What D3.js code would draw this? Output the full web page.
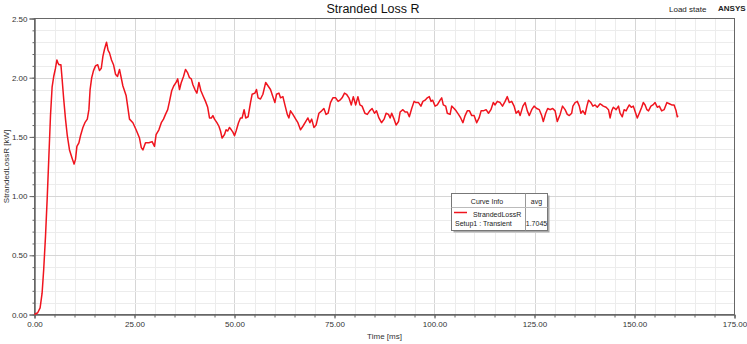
<!DOCTYPE html>
<html>
<head>
<meta charset="utf-8">
<script src="https://cdn.jsdelivr.net/npm/d3@7"></script>
<style>
  html, body { margin: 0; padding: 0; background: #fff; }
  svg { display: block; font-family: "Liberation Sans", Arial, sans-serif; }
</style>
</head>
<body>
<svg id="chart" width="747" height="344"></svg>
<script>
// ---- data ----
const title = "Stranded Loss R";
const xLabel = "Time [ms]";
const yLabel = "StrandedLossR [kW]";
const seriesName = "StrandedLossR";
const setupName = "Setup1 : Transient";
const avgValue = "1.7045";
const xTicks = [0, 25, 50, 75, 100, 125, 150, 175];
const yTicks = [0, 0.5, 1.0, 1.5, 2.0, 2.5];

const timeMs = [
  0, 0.8, 1.4, 1.9, 2.3, 2.75, 3.2, 3.6, 4.0, 4.4, 4.8, 5.25, 5.6, 5.8, 6.1, 6.6, 6.9, 7.3, 7.75, 8.2,
  8.75, 9.4, 9.9, 10.25, 10.6, 11.1, 11.5, 12.1, 12.6, 13.2, 13.6, 13.9, 14.3, 14.75, 15.25, 15.8, 16.25, 16.7, 17.1, 17.5,
  18.0, 18.4, 18.75, 19.25, 19.75, 20.25, 20.75, 21.25, 22.1, 22.9, 23.75, 24.6, 25.4, 26.25, 26.7, 27.1, 27.75, 28.6, 29.4, 30.0,
  30.4, 31.1, 31.7, 32.25, 32.75, 33.3, 33.75, 34.3, 34.8, 35.4, 35.8, 36.25, 36.7, 37.25, 37.75, 38.3, 38.75, 39.2, 39.6, 40.1,
  40.6, 41.1, 41.6, 42.1, 42.75, 43.3, 43.75, 44.2, 44.6, 45.0, 45.6, 46.1, 46.5, 46.9, 47.5, 47.9, 48.3, 48.75, 49.2, 49.6,
  50.0, 50.4, 51.0, 51.5, 51.9, 52.4, 52.8, 53.4, 54.0, 54.4, 55.1, 55.5, 55.9, 56.5, 57.1, 57.8, 58.4, 59.0, 59.6, 60.1,
  60.5, 61.1, 61.5, 62.1, 62.6, 63.2, 63.6, 64.0, 64.6, 65.3, 65.85, 66.5, 67.1, 67.8, 68.35, 68.85, 69.3, 69.85, 70.4, 71.1,
  71.8, 72.35, 72.9, 73.4, 74.0, 74.6, 75.3, 75.9, 76.35, 76.9, 77.5, 78.0, 78.6, 79.2, 79.7, 80.3, 80.85, 81.35, 81.9, 82.6,
  83.2, 83.8, 84.4, 85.0, 85.5, 86.1, 86.75, 87.4, 87.9, 88.5, 88.9, 89.3, 89.9, 90.4, 91.0, 91.4, 92.1, 92.65, 93.2, 93.7,
  94.3, 94.9, 95.4, 96.0, 96.6, 97.1, 97.65, 98.2, 98.7, 99.15, 99.55, 100.15, 100.7, 101.4, 101.8, 102.2, 102.8, 103.2, 103.9, 104.3,
  104.9, 105.4, 106.0, 106.55, 107.1, 107.65, 108.2, 108.75, 109.3, 109.9, 110.55, 111.15, 111.65, 112.2, 112.9, 113.5, 114.1, 114.7, 115.15, 115.7,
  116.4, 117.0, 117.65, 118.2, 118.7, 119.3, 119.9, 120.4, 121.0, 121.4, 122.1, 122.65, 123.2, 123.7, 124.3, 124.9, 125.55, 126.2, 126.8, 127.2,
  127.8, 128.3, 128.9, 129.55, 130.15, 130.7, 131.4, 132.0, 132.65, 133.2, 133.7, 134.3, 134.6, 135.15, 135.7, 136.2, 136.6, 137.1, 137.65, 138.1,
  138.5, 139.1, 139.6, 140.15, 140.7, 141.4, 141.8, 142.2, 142.9, 143.5, 143.9, 144.3, 144.7, 145.4, 146.0, 146.4, 146.95, 147.4, 147.9, 148.2,
  148.7, 149.2, 149.7, 150.3, 150.7, 151.2, 151.8, 152.2, 152.65, 153.1, 153.5, 154.1, 154.6, 155.15, 155.7, 156.2, 156.8, 157.4, 158.1, 158.7,
  159.3, 159.9, 160.4, 160.7, 160.9
];
const lossKW = [
  0.00, 0.015, 0.056, 0.18, 0.38, 0.66, 1.00, 1.34, 1.68, 1.92, 2.01, 2.08, 2.15, 2.13, 2.11, 2.11, 1.99, 1.82, 1.65, 1.51,
  1.39, 1.32, 1.27, 1.31, 1.42, 1.45, 1.51, 1.58, 1.62, 1.65, 1.73, 1.90, 2.00, 2.06, 2.10, 2.11, 2.06, 2.08, 2.18, 2.24,
  2.30, 2.23, 2.21, 2.15, 2.11, 2.03, 2.01, 2.07, 1.93, 1.85, 1.65, 1.62, 1.56, 1.49, 1.41, 1.39, 1.45, 1.45, 1.46, 1.42,
  1.52, 1.56, 1.62, 1.65, 1.69, 1.73, 1.80, 1.89, 1.93, 1.96, 1.99, 1.90, 1.96, 2.01, 2.07, 2.04, 2.00, 1.99, 1.94, 1.90,
  1.87, 1.96, 1.89, 1.85, 1.80, 1.75, 1.66, 1.66, 1.68, 1.65, 1.62, 1.59, 1.55, 1.49, 1.52, 1.56, 1.55, 1.58, 1.56, 1.54,
  1.51, 1.55, 1.62, 1.66, 1.66, 1.73, 1.66, 1.67, 1.79, 1.86, 1.87, 1.90, 1.83, 1.82, 1.86, 1.96, 1.93, 1.90, 1.84, 1.79,
  1.86, 1.87, 1.83, 1.84, 1.77, 1.69, 1.66, 1.72, 1.69, 1.65, 1.62, 1.56, 1.59, 1.63, 1.66, 1.62, 1.65, 1.58, 1.60, 1.70,
  1.72, 1.74, 1.69, 1.70, 1.79, 1.83, 1.83, 1.80, 1.81, 1.83, 1.87, 1.86, 1.83, 1.77, 1.84, 1.77, 1.84, 1.77, 1.76, 1.70,
  1.69, 1.72, 1.74, 1.70, 1.72, 1.66, 1.62, 1.65, 1.70, 1.69, 1.66, 1.70, 1.65, 1.60, 1.63, 1.71, 1.73, 1.71, 1.71, 1.67,
  1.74, 1.80, 1.79, 1.79, 1.76, 1.80, 1.81, 1.83, 1.84, 1.80, 1.81, 1.76, 1.77, 1.81, 1.83, 1.77, 1.76, 1.70, 1.69, 1.76,
  1.74, 1.72, 1.69, 1.66, 1.62, 1.68, 1.72, 1.72, 1.68, 1.68, 1.62, 1.66, 1.72, 1.72, 1.73, 1.70, 1.73, 1.79, 1.77, 1.80,
  1.79, 1.76, 1.80, 1.84, 1.79, 1.80, 1.76, 1.70, 1.72, 1.68, 1.76, 1.79, 1.72, 1.68, 1.73, 1.76, 1.74, 1.73, 1.68, 1.63,
  1.70, 1.74, 1.73, 1.74, 1.72, 1.63, 1.69, 1.76, 1.73, 1.69, 1.68, 1.70, 1.76, 1.79, 1.80, 1.76, 1.70, 1.72, 1.69, 1.76,
  1.81, 1.79, 1.76, 1.77, 1.75, 1.78, 1.77, 1.76, 1.75, 1.73, 1.66, 1.72, 1.75, 1.73, 1.76, 1.70, 1.67, 1.73, 1.72, 1.74,
  1.77, 1.75, 1.76, 1.70, 1.66, 1.70, 1.75, 1.79, 1.77, 1.73, 1.72, 1.76, 1.77, 1.79, 1.75, 1.76, 1.72, 1.73, 1.79, 1.78,
  1.77, 1.77, 1.72, 1.67, 1.68
];

// ---- layout ----
const svg = d3.select("#chart");
const L = 34.5, R = 734.5, T = 18.5, B = 314.5;
const x = d3.scaleLinear().domain([0, 175]).range([L, R]);
const y = d3.scaleLinear().domain([0, 2.5]).range([B, T]);

// grid
const xMinor = d3.range(5, 175, 5);
const yMinor = d3.range(1, 25).map(d => d / 10);
const g = svg.append("g");
g.selectAll("line.gx").data(xMinor).enter().append("line")
  .attr("x1", d => Math.round(x(d)) + 0.5).attr("x2", d => Math.round(x(d)) + 0.5)
  .attr("y1", T).attr("y2", B)
  .attr("stroke", d => d % 25 === 0 ? "#d6d6d6" : "#ececec").attr("stroke-width", 1);
g.selectAll("line.gy").data(yMinor).enter().append("line")
  .attr("y1", d => Math.round(y(d)) + 0.5).attr("y2", d => Math.round(y(d)) + 0.5)
  .attr("x1", L).attr("x2", R)
  .attr("stroke", d => Math.abs(d * 2 - Math.round(d * 2)) < 1e-6 ? "#d6d6d6" : "#ececec").attr("stroke-width", 1);

// frame
svg.append("rect").attr("x", L).attr("y", T).attr("width", R - L).attr("height", B - T)
  .attr("fill", "none").attr("stroke", "#666").attr("stroke-width", 1);

// axes
const fmt = d3.format(".2f");
const xAxis = svg.append("g").attr("transform", `translate(0,${B})`)
  .call(d3.axisBottom(x).tickValues(xTicks).tickFormat(fmt).tickSize(4).tickPadding(3));
const xAxisMinor = svg.append("g").attr("transform", `translate(0,${B})`)
  .call(d3.axisBottom(x).tickValues(xMinor).tickFormat("").tickSize(3));
const yAxis = svg.append("g").attr("transform", `translate(${L},0)`)
  .call(d3.axisLeft(y).tickValues(yTicks).tickFormat(fmt).tickSize(5).tickPadding(2));
const yAxisMinor = svg.append("g").attr("transform", `translate(${L},0)`)
  .call(d3.axisLeft(y).tickValues(yMinor).tickFormat("").tickSize(2));
[xAxis, xAxisMinor, yAxis, yAxisMinor].forEach(a => {
  a.select(".domain").attr("stroke", "#666");
  a.selectAll(".tick line").attr("stroke", "#666");
  a.selectAll(".tick text").attr("fill", "#333").attr("font-size", 8)
    .attr("font-family", "'Liberation Sans', Arial, sans-serif");
});

// line
const pts = timeMs.map((t, i) => [t, lossKW[i]]);
svg.append("path").datum(pts)
  .attr("fill", "none").attr("stroke", "#f0141e").attr("stroke-width", 1.5)
  .attr("stroke-linejoin", "round")
  .attr("d", d3.line().x(d => x(d[0])).y(d => y(d[1])));

// titles
svg.append("text").attr("x", 373).attr("y", 13).attr("text-anchor", "middle")
  .attr("font-size", 12.5).attr("fill", "#111").text(title);
svg.append("text").attr("x", 669).attr("y", 12).attr("font-size", 8).attr("fill", "#222").text("Load state");
svg.append("text").attr("x", 718).attr("y", 11).attr("font-size", 8).attr("font-weight", "bold").attr("fill", "#222").text("ANSYS");
svg.append("text").attr("x", (L + R) / 2).attr("y", 339).attr("text-anchor", "middle")
  .attr("font-size", 8).attr("fill", "#333").text(xLabel);
svg.append("text").attr("transform", `translate(9,${(T + B) / 2}) rotate(-90)`).attr("text-anchor", "middle")
  .attr("font-size", 8).attr("fill", "#333").text(yLabel);

// legend
const lg = svg.append("g");
lg.append("rect").attr("x", 453.5).attr("y", 195.5).attr("width", 96).attr("height", 37).attr("fill", "#aaa");
lg.append("rect").attr("x", 451.5).attr("y", 193.5).attr("width", 96).attr("height", 37)
  .attr("fill", "#fff").attr("stroke", "#777");
lg.append("line").attr("x1", 525.5).attr("x2", 525.5).attr("y1", 193.5).attr("y2", 230.5).attr("stroke", "#999");
lg.append("line").attr("x1", 451.5).attr("x2", 547.5).attr("y1", 207.5).attr("y2", 207.5).attr("stroke", "#bbb");
lg.append("text").attr("x", 487).attr("y", 204).attr("text-anchor", "middle").attr("font-size", 7).attr("fill", "#222").text("Curve Info");
lg.append("text").attr("x", 536.5).attr("y", 204).attr("text-anchor", "middle").attr("font-size", 7).attr("fill", "#222").text("avg");
lg.append("line").attr("x1", 454).attr("x2", 467).attr("y1", 212.5).attr("y2", 212.5).attr("stroke", "#f0141e").attr("stroke-width", 1.5);
lg.append("text").attr("x", 473).attr("y", 217).attr("font-size", 7).attr("fill", "#222").text(seriesName);
lg.append("text").attr("x", 455).attr("y", 226).attr("font-size", 7).attr("fill", "#222").text(setupName);
lg.append("text").attr("x", 536.5).attr("y", 226).attr("text-anchor", "middle").attr("font-size", 7).attr("fill", "#222").text(avgValue);
</script>
</body>
</html>
